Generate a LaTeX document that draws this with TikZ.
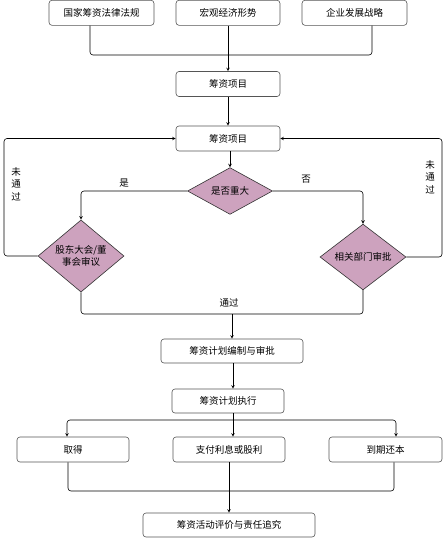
\documentclass[tikz,border=0pt]{standalone}
\usepackage{fontspec}
\setmainfont{Noto Sans CJK SC}
\usetikzlibrary{arrows,shapes.geometric,positioning,calc}
\definecolor{diafill}{HTML}{CDA2BE}
\definecolor{boxline}{HTML}{555555}
\begin{document}
\begin{tikzpicture}[x=1pt,y=-1pt,>=stealth,line width=0.6pt,
  font=\fontsize{9.5}{12}\selectfont,
  box/.style={draw=boxline,rounded corners=3pt,inner sep=0pt},
  dia/.style={draw=black!80,fill=diafill,diamond,inner sep=0pt,align=center},
  link/.style={rounded corners=3pt}]
\useasboundingbox (0,0) rectangle (446,538);
% top row
\node[box,minimum width=105pt,minimum height=25pt] (law) at (101.5,12.8) {国家筹资法律法规};
\node[box,minimum width=104pt,minimum height=25pt] (macro) at (228,12.8) {宏观经济形势};
\node[box,minimum width=105pt,minimum height=25pt] (strat) at (354.5,12.8) {企业发展战略};
\node[box,minimum width=104pt,minimum height=25pt] (proj1) at (228,84) {筹资项目};
\node[box,minimum width=104pt,minimum height=25pt] (proj2) at (228,138.5) {筹资项目};
% decisions
\node[dia,minimum width=85pt,minimum height=38pt] (big) at (230,191) {是否重大};
\node[dia,minimum width=86pt,minimum height=55pt] (board) at (81,256) {股东大会/董\\事会审议};
\node[dia,minimum width=86pt,minimum height=55pt] (dept) at (363,257) {相关部门审批};
% plan and execution
\node[box,minimum width=142pt,minimum height=24pt] (plan) at (232,351) {筹资计划编制与审批};
\node[box,minimum width=112pt,minimum height=24pt] (exec) at (228,401) {筹资计划执行};
\node[box,minimum width=112pt,minimum height=25pt] (get) at (73,449.5) {取得};
\node[box,minimum width=112pt,minimum height=25pt] (pay) at (229,449.5) {支付利息或股利};
\node[box,minimum width=113pt,minimum height=25pt] (repay) at (385.5,449.5) {到期还本};
\node[box,minimum width=172pt,minimum height=24pt] (eval) at (229,525) {筹资活动评价与责任追究};
% labels
\node (yes) at (124,183) {是};
\node (no) at (306,179) {否};
\node (pass) at (229,303) {通过};
\node[align=center,font=\fontsize{9.5}{12.5}\selectfont] (failL) at (16,184) {未\\通\\过};
\node[align=center,font=\fontsize{9.5}{12.5}\selectfont] (failR) at (430,177) {未\\通\\过};
% junctions
\coordinate (j1) at (228,55);
\coordinate (j2) at (232,314);
\coordinate (j3) at (233,420);
\coordinate (j4) at (229,491);
\coordinate (cL) at (4,0);
\coordinate (cR) at (442,0);
% connectors
\draw[link] ($(law.south)+(-11.5,0)$) |- (j1) -| ($(strat.south)+(17.5,0)$);
\draw[->] (macro.south) -- (proj1.north);
\draw[->] (proj1.south) -- (proj2.north);
\draw[->] (proj2.south -| big.north) -- (big.north);
\draw[->,link] (big.west) -| (board.north);
\draw[->,link] (big.east) -| (dept.north);
\draw[->,link] (board.west) -| (cL |- proj2.west) -- (proj2.west);
\draw[->,link] (dept.east) -| (cR |- proj2.east) -- (proj2.east);
\draw[link] (board.south) |- (j2) -| (dept.south);
\draw[->] (j2) -- (plan.north);
\draw[->] (plan.south -| j3) -- (exec.north -| j3);
\draw (exec.south -| j3) -- (j3);
\draw[->,link] (j3) -| ($(get.north)+(-6,0)$);
\draw[->,link] (j3) -| ($(repay.north)+(10.5,0)$);
\draw[->] (j3) -- (pay.north -| j3);
\draw[link] ($(get.south)+(-5,0)$) |- (j4) -| ($(repay.south)+(8.5,0)$);
\draw[->] (pay.south) -- (eval.north);
\end{tikzpicture}
\end{document}
